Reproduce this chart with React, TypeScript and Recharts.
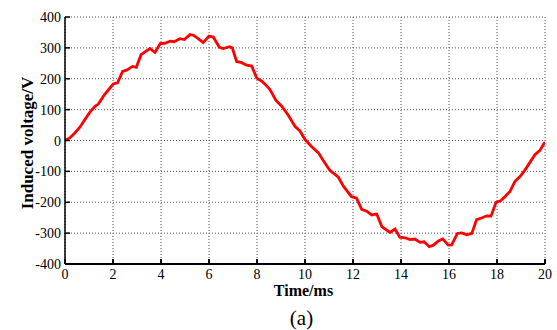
import React from 'react';
import { LineChart, Line, XAxis, YAxis, CartesianGrid } from 'recharts';

const timeMs = [
  0, 0.21, 0.42, 0.62, 0.83, 1.04, 1.25, 1.39, 1.64, 1.83, 2.01, 2.19, 2.4, 2.57, 2.81, 2.97,
  3.17, 3.35, 3.54, 3.75, 3.97, 4.17, 4.38, 4.55, 4.79, 4.97, 5.21, 5.35, 5.55, 5.76, 6.0, 6.18,
  6.43, 6.6, 6.85, 6.97, 7.15, 7.36, 7.57, 7.78, 7.99, 8.2, 8.37, 8.54, 8.79, 9.03, 9.31, 9.58,
  9.79, 10.0, 10.28, 10.56, 10.76, 11.04, 11.25, 11.39, 11.6, 11.94, 12.15, 12.36, 12.57, 12.78,
  12.99, 13.2, 13.54, 13.75, 13.95, 14.17, 14.375, 14.58, 14.79, 14.96, 15.18, 15.35, 15.56,
  15.74, 15.97, 16.11, 16.35, 16.53, 16.74, 16.95, 17.15, 17.36, 17.57, 17.75, 17.96, 18.15,
  18.33, 18.54, 18.75, 18.96, 19.17, 19.38, 19.58, 19.79, 19.96, 20,
];
const voltage = [
  0, 9, 25, 43, 68, 92, 111, 118, 148, 166, 183, 187, 224, 228, 240, 237,
  278, 288, 298, 285, 314, 315, 322, 320, 330, 327, 343, 341, 330, 317, 338, 335,
  302, 298, 304, 300, 256, 252, 244, 241, 202, 192, 180, 165, 130, 111, 81, 46,
  31, 3, -20, -40, -65, -97, -110, -119, -148, -182, -187, -223, -229, -241,
  -238, -279, -298, -287, -313, -315, -321, -319, -330, -328, -344, -339, -325,
  -319, -339, -338, -301, -299, -305, -301, -256, -251, -244, -245, -200, -195,
  -182, -165, -132, -117, -95, -70, -46, -32, -9, -6,
];
const xTicks = [0, 2, 4, 6, 8, 10, 12, 14, 16, 18, 20];
const yTicks = [-400, -300, -200, -100, 0, 100, 200, 300, 400];

const data = timeMs.map((t, i) => ({ t, v: voltage[i] }));

const font = '"Liberation Serif", "Times New Roman", serif';

const XTick = (props: any) => {
  const { x, y, payload } = props;
  return (
    <text x={x} y={y} dy={11} textAnchor="middle" fontFamily={font} fontSize={14} fill="#000" style={{ fontFamily: font }}>
      {payload.value}
    </text>
  );
};

const YTick = (props: any) => {
  const { x, y, payload } = props;
  return (
    <text x={x} y={y} dy={5} textAnchor="end" fontFamily={font} fontSize={14} fill="#000" style={{ fontFamily: font }}>
      {payload.value}
    </text>
  );
};

export default function App() {
  return (
    <div style={{ position: 'absolute', left: 0, top: 0, width: 557, height: 330, background: '#fff', fontFamily: font }}>
      <LineChart width={557} height={330} data={data} margin={{ top: 17, right: 12, left: 0, bottom: 36 }}>
        <CartesianGrid xAxisId="b" yAxisId="l" stroke="#555" strokeDasharray="1 2" />
        <XAxis
          xAxisId="b"
          dataKey="t"
          type="number"
          domain={[0, 20]}
          ticks={xTicks}
          height={30}
          tickSize={-5}
          tickMargin={9}
          stroke="#000"
          strokeWidth={2}
          tick={<XTick />}
          allowDataOverflow
        />
        <XAxis
          xAxisId="t"
          orientation="top"
          dataKey="t"
          type="number"
          domain={[0, 20]}
          ticks={xTicks}
          height={0}
          tickSize={-5}
          tickFormatter={() => ''}
          stroke="#000"
          strokeWidth={1.5}
        />
        <YAxis
          yAxisId="l"
          type="number"
          domain={[-400, 400]}
          ticks={yTicks}
          width={65}
          tickSize={-5}
          tickMargin={9}
          stroke="#000"
          strokeWidth={1.5}
          tick={<YTick />}
          allowDataOverflow
        />
        <YAxis
          yAxisId="r"
          orientation="right"
          type="number"
          domain={[-400, 400]}
          ticks={yTicks}
          width={0}
          tickSize={-5}
          tickFormatter={() => ''}
          stroke="#000"
          strokeWidth={1.5}
        />
        <Line
          xAxisId="b"
          yAxisId="l"
          type="linear"
          dataKey="v"
          stroke="#ff0000"
          strokeWidth={2.8}
          dot={false}
          isAnimationActive={false}
        />
      </LineChart>
      <div style={{ position: 'absolute', left: 0, width: 557, top: 282, textAlign: 'center', paddingLeft: 50, boxSizing: 'border-box', fontFamily: font, fontWeight: 'bold', fontSize: 16, lineHeight: '18px', color: '#000' }}>
        Time/ms
      </div>
      <div style={{ position: 'absolute', left: 0, width: 557, top: 307, textAlign: 'center', paddingLeft: 46, boxSizing: 'border-box', fontFamily: font, fontSize: 21, lineHeight: '22px', color: '#000' }}>
        (a)
      </div>
      <div style={{ position: 'absolute', left: 28, top: 143, width: 0, height: 0 }}>
        <div style={{ position: 'absolute', left: 0, top: 0, transform: 'translate(-50%, -50%) rotate(-90deg)', whiteSpace: 'nowrap', fontFamily: font, fontWeight: 'bold', fontSize: 17, color: '#000' }}>
          Induced voltage/V
        </div>
      </div>
    </div>
  );
}
